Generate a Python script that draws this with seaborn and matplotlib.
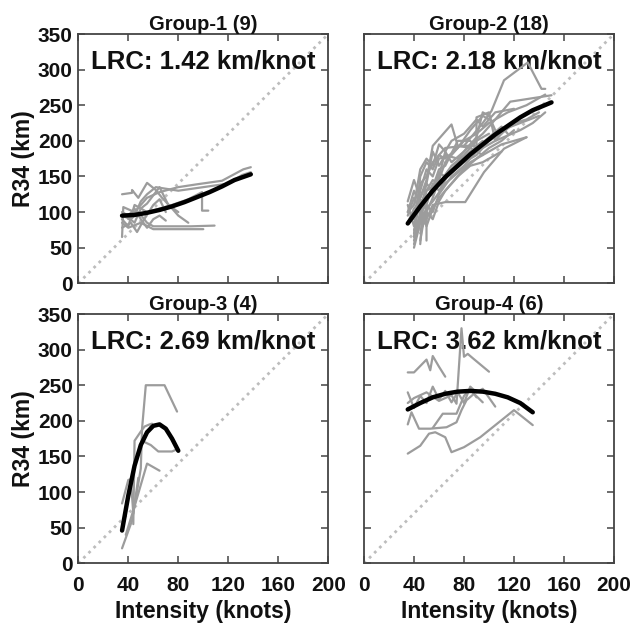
import numpy as np
import pandas as pd
import matplotlib
matplotlib.use("Agg")
import matplotlib.pyplot as plt
import seaborn as sns

# ---------------- data ----------------
titles = ["Group-1 (9)", "Group-2 (18)", "Group-3 (4)", "Group-4 (6)"]
lrc_values = [1.42, 2.18, 2.69, 3.62]

x_ticks = [0, 40, 80, 120, 160, 200]
y_ticks = [0, 50, 100, 150, 200, 250, 300, 350]

# Group-1 tracks (intensity knots, R34 km)
g1_x = [
    [35, 36, 45, 55, 65, 80, 95, 115, 132, 138],
    [35, 43, 43, 48, 55, 62, 67, 73, 80, 88],
    [35, 40, 45, 55, 65, 75, 88, 99, 99, 104],
    [35, 40, 50, 60, 75, 90, 100],
    [35, 42, 48, 55, 60, 75, 90, 109],
    [40, 45, 50, 55, 62, 80, 100, 120, 131, 138],
    [35, 40, 45, 50, 55, 60, 65, 70],
    [35, 42, 47, 52, 60, 65, 70],
    [38, 45, 50, 55, 65, 72, 80],
]
g1_y = [
    [65, 107, 100, 120, 128, 135, 139, 144, 160, 163],
    [125, 127, 131, 120, 141, 131, 120, 109, 95, 85],
    [90, 80, 110, 100, 105, 110, 118, 128, 102, 102],
    [85, 78, 85, 76, 76, 76, 76],
    [95, 90, 100, 85, 80, 80, 80, 81],
    [90, 95, 115, 125, 135, 130, 135, 140, 152, 156],
    [100, 95, 105, 90, 78, 90, 95, 88],
    [78, 85, 72, 88, 110, 118, 100],
    [95, 85, 105, 112, 135, 110, 100],
]
g1_fit_x = [35, 45, 55, 65, 75, 85, 95, 105, 115, 125, 138]
g1_fit_y = [95, 96, 99, 103, 108, 114, 121, 128, 136, 145, 153]

# Group-2 tracks
g2_x = [
    [35, 40, 45, 50, 55, 60, 65, 75, 85, 95],
    [40, 45, 50, 55, 65, 75, 85, 95, 110, 130],
    [35, 40, 45, 50, 55, 60, 70, 80, 90, 100, 115, 130, 145],
    [40, 45, 50, 55, 60, 70, 80, 90, 100, 110, 125, 140],
    [35, 40, 45, 50, 55, 70, 75, 85, 95],
    [45, 50, 55, 65, 75, 90, 90, 100, 105, 110],
    [40, 45, 50, 55, 65, 80, 95, 102, 112, 131, 142, 145],
    [45, 50, 55, 65, 75, 81, 96, 112, 130],
    [40, 42, 45, 50, 55, 60, 65, 75, 85, 95, 100],
    [40, 45, 50, 60, 70, 80, 90, 100, 110, 120, 130, 140],
    [35, 40, 45, 50, 55, 60, 70, 80, 90, 100],
    [45, 47, 50, 55, 60, 70, 80, 90, 100, 110, 120],
    [40, 45, 50, 55, 60, 65, 75, 85, 90, 100, 110, 115],
    [50, 50, 55, 60, 65, 75, 85, 95, 110],
    [35, 40, 45, 55, 60, 65, 70, 80, 90, 95, 100, 105],
    [40, 45, 50, 55, 60, 65, 75, 85, 95, 105, 117, 150],
    [45, 50, 55, 60, 70, 80, 90, 105, 125, 135, 145],
    [35, 40, 45, 50, 55, 60, 65, 70, 80, 90, 95, 105, 120],
]
g2_y = [
    [95, 120, 100, 140, 130, 155, 150, 170, 185, 200],
    [50, 85, 105, 115, 140, 155, 170, 180, 195, 205],
    [110, 80, 130, 160, 150, 175, 180, 200, 210, 225, 240, 250, 265],
    [60, 100, 110, 140, 130, 160, 175, 190, 200, 215, 225, 235],
    [115, 145, 120, 145, 193, 223, 193, 190, 180],
    [70, 100, 120, 170, 193, 193, 233, 240, 200, 210],
    [90, 140, 150, 170, 190, 193, 225, 242, 285, 310, 273, 273],
    [75, 90, 110, 114, 114, 114, 156, 189, 205],
    [65, 100, 150, 170, 160, 180, 175, 190, 215, 235, 230],
    [55, 90, 120, 140, 155, 170, 180, 200, 210, 225, 230, 240],
    [100, 130, 110, 130, 145, 140, 165, 180, 200, 210],
    [55, 100, 80, 105, 120, 140, 160, 175, 190, 200, 215],
    [75, 95, 130, 135, 160, 165, 200, 200, 190, 205, 220, 210],
    [60, 100, 90, 115, 130, 150, 165, 170, 185],
    [85, 105, 115, 125, 150, 185, 170, 185, 205, 240, 235, 215],
    [70, 120, 140, 185, 165, 180, 175, 195, 210, 230, 255, 264],
    [60, 110, 100, 125, 150, 165, 185, 200, 215, 225, 240],
    [100, 110, 160, 175, 165, 195, 185, 200, 210, 230, 220, 240, 245],
]
g2_fit_x = [35, 45, 55, 65, 75, 85, 95, 105, 115, 125, 135, 150]
g2_fit_y = [84, 108, 130, 149, 165, 181, 195, 209, 221, 233, 243, 254]

# Group-3 tracks
g3_x = [
    [35, 43, 50, 51, 54, 69, 79],
    [44, 45, 50, 53, 57, 59, 52, 58, 64, 75, 79],
    [35, 40, 42, 44, 46, 48],
    [38, 45, 50, 55, 60, 65],
]
g3_y = [
    [21, 60, 133, 189, 250, 250, 213],
    [55, 172, 185, 192, 195, 196, 171, 166, 157, 157, 160],
    [84, 117, 118, 70, 95, 120],
    [40, 80, 110, 140, 135, 130],
]
g3_fit_x = [35, 40, 45, 50, 55, 60, 65, 70, 75, 80]
g3_fit_y = [46, 95, 137, 166, 184, 193, 195, 189, 175, 158]

# Group-4 tracks
g4_x = [
    [35, 40, 50, 53, 55, 60, 65],
    [35, 40, 50, 60, 70, 74, 78, 80, 83, 87, 100],
    [35, 40, 45, 50, 55, 60, 65, 70, 75, 80, 85, 90, 95, 105],
    [35, 38, 44, 53, 66, 74, 78, 82, 88, 95],
    [35, 45, 52, 57, 65, 70, 80, 93, 120, 135],
    [55, 63, 74, 80, 85, 90],
]
g4_y = [
    [268, 268, 286, 271, 291, 276, 262],
    [225, 232, 240, 228, 236, 224, 330, 290, 294, 288, 269],
    [240, 218, 235, 225, 248, 230, 242, 226, 240, 225, 248, 240, 245, 220],
    [195, 212, 189, 189, 191, 198, 215, 229, 238, 226],
    [154, 165, 182, 184, 177, 156, 163, 177, 215, 194],
    [190, 210, 210, 235, 245, 233],
]
g4_fit_x = [35, 45, 55, 65, 75, 85, 95, 105, 115, 125, 135]
g4_fit_y = [216, 225, 233, 238, 241, 242, 241, 238, 233, 225, 212]

groups_x = [g1_x, g2_x, g3_x, g4_x]
groups_y = [g1_y, g2_y, g3_y, g4_y]
fits_x = [g1_fit_x, g2_fit_x, g3_fit_x, g4_fit_x]
fits_y = [g1_fit_y, g2_fit_y, g3_fit_y, g4_fit_y]

# ---------------- styling ----------------
sns.set_theme(style="white")
plt.rcParams["font.family"] = ["Liberation Sans", "DejaVu Sans"]
plt.rcParams["font.weight"] = "bold"
plt.rcParams["axes.labelweight"] = "bold"
plt.rcParams["axes.titleweight"] = "bold"
plt.rcParams["text.color"] = "#111111"

TXT = "#111111"
fig = plt.figure(figsize=(6.34, 6.26), dpi=100)

W, H = 634, 626
lefts = [78.3, 364.0, 78.3, 364.0]
tops = [34.0, 34.0, 314.0, 314.0]
aw, ah = 250.0, 249.3

for i in range(4):
    ax = fig.add_axes([lefts[i] / W, (H - tops[i] - ah) / H, aw / W, ah / H])
    rows = []
    for k, (xs, ys) in enumerate(zip(groups_x[i], groups_y[i])):
        for j, (xv, yv) in enumerate(zip(xs, ys)):
            rows.append({"track": k, "order": j, "x": xv, "y": yv})
    df = pd.DataFrame(rows)
    ax.plot([0, 200], [0, 350], linestyle=(0, (1, 1.6)), color="#bdbdbd", lw=2.0, zorder=1)
    ax.text(0.5, 0.862, f"LRC: {lrc_values[i]:.2f} km/knot", transform=ax.transAxes,
            ha="center", va="baseline", fontsize=18.5, fontweight="bold", color=TXT, zorder=1.5)
    sns.lineplot(data=df, x="x", y="y", units="track", estimator=None, sort=False,
                 color="#9c9c9c", lw=1.6, ax=ax, zorder=2)
    fdf = pd.DataFrame({"x": fits_x[i], "y": fits_y[i]})
    sns.lineplot(data=fdf, x="x", y="y", sort=False, color="black", lw=3.2, ax=ax, zorder=3)

    ax.set_xlim(0, 200)
    ax.set_ylim(0, 350)
    ax.set_xticks(x_ticks)
    ax.set_yticks(y_ticks)
    ax.tick_params(axis="both", direction="in", bottom=True, left=True, top=True, right=True,
                   length=5, width=1.1, color="#444444", labelsize=15, labelcolor=TXT)
    ax.tick_params(axis="x", pad=9, labelbottom=(i >= 2))
    ax.tick_params(axis="y", pad=4, labelleft=(i % 2 == 0))
    for lab in ax.get_xticklabels() + ax.get_yticklabels():
        lab.set_fontweight("bold")
    for s in ax.spines.values():
        s.set_color("#444444")
        s.set_linewidth(1.3)
    ax.set_title(titles[i], fontsize=14.5, fontweight="bold", pad=3, color=TXT)
    if i % 2 == 0:
        ax.set_ylabel("R34 (km)", fontsize=16.5, fontweight="bold", labelpad=2, color=TXT)
    else:
        ax.set_ylabel("")
    if i >= 2:
        ax.set_xlabel("Intensity (knots)", fontsize=16.5, fontweight="bold", labelpad=4, color=TXT)
    else:
        ax.set_xlabel("")

fig.savefig("out.png", dpi=100)
